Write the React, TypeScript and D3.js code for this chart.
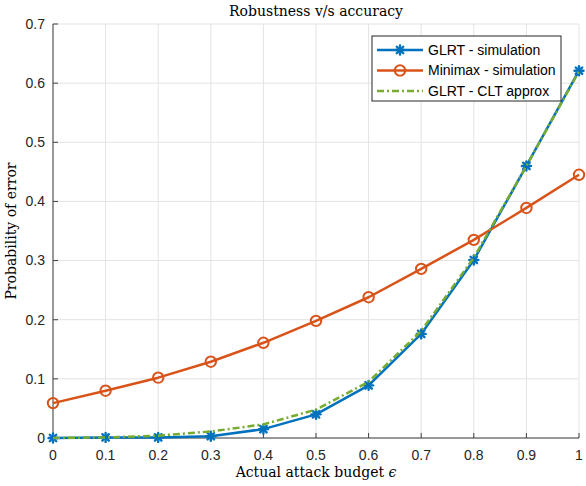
import * as d3 from 'd3'

const budgets = [0, 0.1, 0.2, 0.3, 0.4, 0.5, 0.6, 0.7, 0.8, 0.9, 1]
const glrtSim = [0, 0.001, 0.001, 0.003, 0.015, 0.04, 0.089, 0.176, 0.301, 0.46, 0.621]
const minimaxSim = [0.059, 0.08, 0.102, 0.129, 0.161, 0.198, 0.238, 0.286, 0.335, 0.389, 0.445]
const glrtClt = [0, 0.001, 0.004, 0.011, 0.023, 0.048, 0.095, 0.181, 0.305, 0.46, 0.62]
const xTicks = [0, 0.1, 0.2, 0.3, 0.4, 0.5, 0.6, 0.7, 0.8, 0.9, 1]
const yTicks = [0, 0.1, 0.2, 0.3, 0.4, 0.5, 0.6, 0.7]

const W = 586
const H = 486
const margin = { top: 24, right: 7, bottom: 48, left: 53 }
const innerW = W - margin.left - margin.right
const innerH = H - margin.top - margin.bottom

const BLUE = '#0072BD'
const ORANGE = '#D95319'
const GREEN = '#77AC30'
const AXIS = '#404040'
const sans = 'Liberation Sans, Arial, Helvetica, sans-serif'
const serif = 'DejaVu Serif, serif'

type Series = { name: string; values: number[]; color: string; marker: 'star' | 'circle' | null; dash?: string }

const series: Series[] = [
  { name: 'GLRT - simulation', values: glrtSim, color: BLUE, marker: 'star' },
  { name: 'Minimax - simulation', values: minimaxSim, color: ORANGE, marker: 'circle' },
  { name: 'GLRT - CLT approx', values: glrtClt, color: GREEN, marker: null, dash: '7,3,2,3' },
]

function Marker({ kind, x, y, color }: { kind: 'star' | 'circle' | null; x: number; y: number; color: string }) {
  if (kind === 'circle') return <circle cx={x} cy={y} r={5.2} fill="none" stroke={color} strokeWidth={2} />
  if (kind === 'star') {
    const r = 4.5
    const d = r * 0.72
    return (
      <g stroke={color} strokeWidth={2.4} strokeLinecap="round">
        <line x1={x - r} y1={y} x2={x + r} y2={y} />
        <line x1={x} y1={y - r} x2={x} y2={y + r} />
        <line x1={x - d} y1={y - d} x2={x + d} y2={y + d} />
        <line x1={x - d} y1={y + d} x2={x + d} y2={y - d} />
      </g>
    )
  }
  return null
}

export default function App() {
  const x = d3.scaleLinear().domain([0, 1]).range([0, innerW])
  const y = d3.scaleLinear().domain([0, 0.7]).range([innerH, 0])
  const line = d3.line<number>().x((_, i) => x(budgets[i])).y(d => y(d))

  const lgX = 372 - margin.left
  const lgY = 36 - margin.top
  const rowH = 20.5

  return (
    <svg width={W} height={H} style={{ position: 'absolute', left: 0, top: 0, background: '#fff' }}>
      <rect width={W} height={H} fill="#fff" />
      <g transform={`translate(${margin.left},${margin.top})`}>
        {/* grid */}
        {xTicks.map(t => (
          <line key={`gx${t}`} x1={x(t)} x2={x(t)} y1={0} y2={innerH} stroke="#e3e3e3" strokeWidth={1} />
        ))}
        {yTicks.map(t => (
          <line key={`gy${t}`} x1={0} x2={innerW} y1={y(t)} y2={y(t)} stroke="#e3e3e3" strokeWidth={1} />
        ))}

        {/* axes */}
        <line x1={0} x2={innerW} y1={innerH} y2={innerH} stroke={AXIS} strokeWidth={1} />
        <line x1={0} x2={0} y1={0} y2={innerH} stroke={AXIS} strokeWidth={1} />
        {xTicks.map(t => (
          <g key={`tx${t}`}>
            <line x1={x(t)} x2={x(t)} y1={innerH} y2={innerH - 5} stroke={AXIS} />
            <text x={x(t)} y={innerH + 22} textAnchor="middle" fontFamily={sans} fontSize={14} fill="#262626">
              {d3.format('~g')(t)}
            </text>
          </g>
        ))}
        {yTicks.map(t => (
          <g key={`ty${t}`}>
            <line x1={0} x2={5} y1={y(t)} y2={y(t)} stroke={AXIS} />
            <text x={-8} y={y(t)} dy="0.35em" textAnchor="end" fontFamily={sans} fontSize={14} fill="#262626">
              {d3.format('~g')(t)}
            </text>
          </g>
        ))}

        {/* series */}
        {series.map(s => (
          <g key={s.name}>
            <path d={line(s.values) ?? ''} fill="none" stroke={s.color} strokeWidth={2.5} strokeDasharray={s.dash} strokeLinejoin="round" />
            {s.values.map((v, i) => (
              <Marker key={i} kind={s.marker} x={x(budgets[i])} y={y(v)} color={s.color} />
            ))}
          </g>
        ))}

        {/* legend */}
        <rect x={lgX} y={lgY} width={189} height={65} fill="#fff" stroke="#262626" strokeWidth={1} />
        {series.map((s, i) => {
          const cy = lgY + 14 + i * rowH
          return (
            <g key={`lg${s.name}`}>
              <line x1={lgX + 5} x2={lgX + 51} y1={cy} y2={cy} stroke={s.color} strokeWidth={2.5} strokeDasharray={s.dash} />
              <Marker kind={s.marker} x={lgX + 28} y={cy} color={s.color} />
              <text x={lgX + 56} y={cy} dy="0.35em" fontFamily={sans} fontSize={14} fill="#000">
                {s.name}
              </text>
            </g>
          )
        })}
      </g>

      <text x={margin.left + innerW / 2} y={16} textAnchor="middle" fontFamily={serif} fontSize={14} fill="#000">
        Robustness v/s accuracy
      </text>
      <text x={margin.left + innerW / 2} y={477} textAnchor="middle" fontFamily={serif} fontSize={14} fill="#000">
        Actual attack budget <tspan fontStyle="italic">ϵ</tspan>
      </text>
      <text
        transform={`translate(16,${margin.top + innerH / 2}) rotate(-90)`}
        textAnchor="middle"
        fontFamily={serif}
        fontSize={14}
        fill="#000"
      >
        Probability of error
      </text>
    </svg>
  )
}
